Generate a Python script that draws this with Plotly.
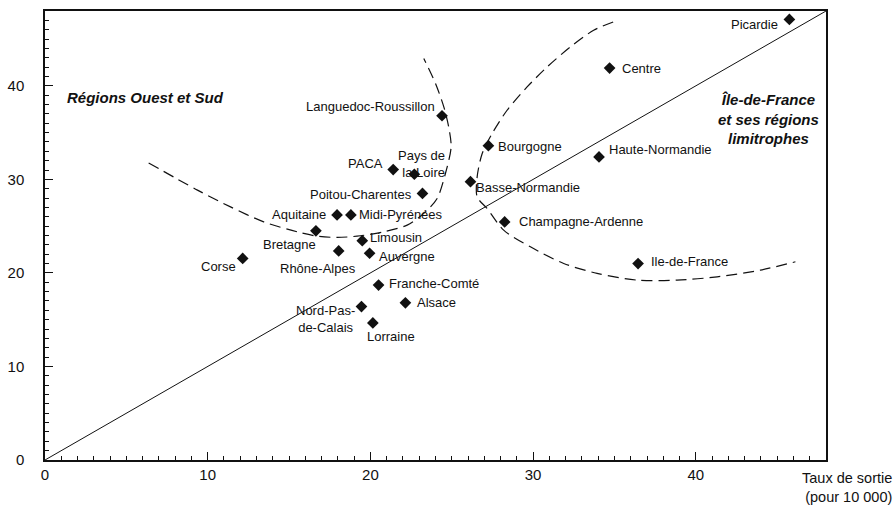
import plotly.graph_objects as go

# ---------------- data ----------------
regions = ["Languedoc-Roussillon", "PACA", "Pays de<br>la Loire", "Poitou-Charentes",
           "Aquitaine", "Midi-Pyrénées", "Bretagne", "Limousin", "Rhône-Alpes",
           "Auvergne", "Corse", "Franche-Comté", "Alsace", "Nord-Pas-<br>de-Calais",
           "Lorraine", "Picardie", "Centre", "Bourgogne", "Haute-Normandie",
           "Basse-Normandie", "Champagne-Ardenne", "Ile-de-France"]
taux_sortie = [24.4, 21.4, 22.7, 23.2, 17.95, 18.8, 16.65, 19.5, 18.05, 19.95, 12.15,
               20.5, 22.15, 19.45, 20.15, 45.75, 34.7, 27.25, 34.05, 26.15, 28.25, 36.45]
taux_entree = [36.8, 31.05, 30.55, 28.5, 26.2, 26.2, 24.5, 23.45, 22.35, 22.1, 21.55,
               18.7, 16.8, 16.4, 14.65, 47.1, 41.9, 33.6, 32.4, 29.75, 25.45, 21.0]

diag_x = [0, 48]
diag_y = [0, 48]

ouest_x = [6.37, 9.37, 11.40, 13.44, 15.50, 16.72, 17.95, 19.18, 20.82, 22.26,
           23.28, 24.10, 24.61, 24.96, 24.81, 24.51, 24.00, 23.28]
ouest_y = [31.76, 28.85, 27.06, 25.46, 24.39, 23.93, 23.79, 23.93, 24.39, 25.11,
           26.36, 27.96, 30.63, 33.47, 35.61, 37.75, 40.25, 42.92]

idf_x = [34.92, 33.72, 32.29, 30.86, 29.63, 28.40, 27.48, 26.87, 26.56, 26.56, 27.17,
         28.19, 29.83, 31.88, 33.93, 36.39, 38.85, 41.31, 43.97, 46.12]
idf_y = [46.83, 45.94, 44.16, 42.02, 39.88, 37.39, 34.90, 32.77, 30.27, 28.13, 26.89,
         24.57, 22.79, 21.01, 19.95, 19.23, 19.23, 19.58, 20.30, 21.19]

zone_labels = ["<b><i>Régions Ouest et Sud</i></b>",
               "<b><i>Île-de-France<br>et ses régions<br>limitrophes</i></b>"]
zone_x = [1.25, 44.46]
zone_y = [38.7, 36.5]

x_title = "Taux de sortie<br>(pour 10 000)"

# ---------------- label placement (pixels: xanchor, xshift, yshift) ----------------
label_style = {
    "Languedoc-Roussillon": ("right", -5, 9),
    "PACA": ("right", -8, 6),
    "Pays de<br>la Loire": ("right", 33, 10),
    "Poitou-Charentes": ("right", -8, -1),
    "Aquitaine": ("right", -9, 0),
    "Midi-Pyrénées": ("left", 6, 0),
    "Bretagne": ("right", 2, -14),
    "Limousin": ("left", 6, 3),
    "Rhône-Alpes": ("right", 19, -18),
    "Auvergne": ("left", 7, -3),
    "Corse": ("right", -5, -8),
    "Franche-Comté": ("left", 8, 2),
    "Alsace": ("left", 10, 0),
    "Nord-Pas-<br>de-Calais": ("center", -36, -12),
    "Lorraine": ("left", -8, -14),
    "Picardie": ("right", -9, -5),
    "Centre": ("left", 10, 0),
    "Bourgogne": ("left", 8, -1),
    "Haute-Normandie": ("left", 8, 7),
    "Basse-Normandie": ("left", 4, -6),
    "Champagne-Ardenne": ("left", 12, 0),
    "Ile-de-France": ("left", 11, 2),
}

FONT = "Liberation Sans, Arial, Helvetica, sans-serif"
INK = "#111111"

fig = go.Figure()

fig.add_trace(go.Scatter(x=diag_x, y=diag_y, mode="lines",
                         line=dict(color=INK, width=1), hoverinfo="skip"))
fig.add_trace(go.Scatter(x=ouest_x, y=ouest_y, mode="lines",
                         line=dict(color=INK, width=1.2, dash="11px,6px", shape="spline",
                                   smoothing=0.8),
                         hoverinfo="skip"))
fig.add_trace(go.Scatter(x=idf_x, y=idf_y, mode="lines",
                         line=dict(color=INK, width=1.2, dash="11px,6px", shape="spline",
                                   smoothing=0.8),
                         hoverinfo="skip"))
fig.add_trace(go.Scatter(x=taux_sortie, y=taux_entree, mode="markers",
                         marker=dict(symbol="diamond", size=9, color=INK),
                         text=regions, hoverinfo="text"))

annotations = []
for name, xv, yv in zip(regions, taux_sortie, taux_entree):
    anchor, dx, dy = label_style[name]
    annotations.append(dict(x=xv, y=yv, xref="x", yref="y", text=name, showarrow=False,
                            xanchor=anchor, yanchor="middle", xshift=dx, yshift=dy,
                            align="center" if anchor == "center" else anchor,
                            font=dict(family=FONT, size=13, color=INK)))
annotations.append(dict(x=zone_x[0], y=zone_y[0], xref="x", yref="y", text=zone_labels[0],
                        showarrow=False, xanchor="left", yanchor="middle",
                        font=dict(family=FONT, size=15, color=INK)))
annotations.append(dict(x=zone_x[1], y=zone_y[1], xref="x", yref="y", text=zone_labels[1],
                        showarrow=False, xanchor="center", yanchor="middle", align="center",
                        font=dict(family=FONT, size=15, color=INK)))
annotations.append(dict(x=1.0, y=0, xref="paper", yref="paper", text=x_title,
                        showarrow=False, xanchor="right", yanchor="top", align="right",
                        xshift=68, yshift=-8,
                        font=dict(family=FONT, size=14.5, color=INK)))

axis_common = dict(range=[0, 48], dtick=10, tick0=0, ticks="inside", ticklen=8,
                   tickwidth=1, tickcolor=INK, showline=True, linecolor=INK, linewidth=1.5,
                   mirror=True, showgrid=False, zeroline=False, automargin=False,
                   minor=dict(dtick=1, ticks="inside", ticklen=4, tickwidth=1,
                              tickcolor=INK, showgrid=False),
                   tickfont=dict(family=FONT, size=15, color=INK))

fig.update_xaxes(**axis_common, ticklabelstandoff=0)
fig.update_yaxes(**axis_common, ticklabelstandoff=16)

fig.update_layout(width=895, height=507, margin=dict(l=45, r=69, t=11, b=47, autoexpand=False),
                  paper_bgcolor="white", plot_bgcolor="white", showlegend=False,
                  annotations=annotations, font=dict(family=FONT, color=INK))

fig.write_html("out.html", config={"displayModeBar": False},
               post_script="document.body.style.margin='0';document.body.style.overflow='hidden';")
